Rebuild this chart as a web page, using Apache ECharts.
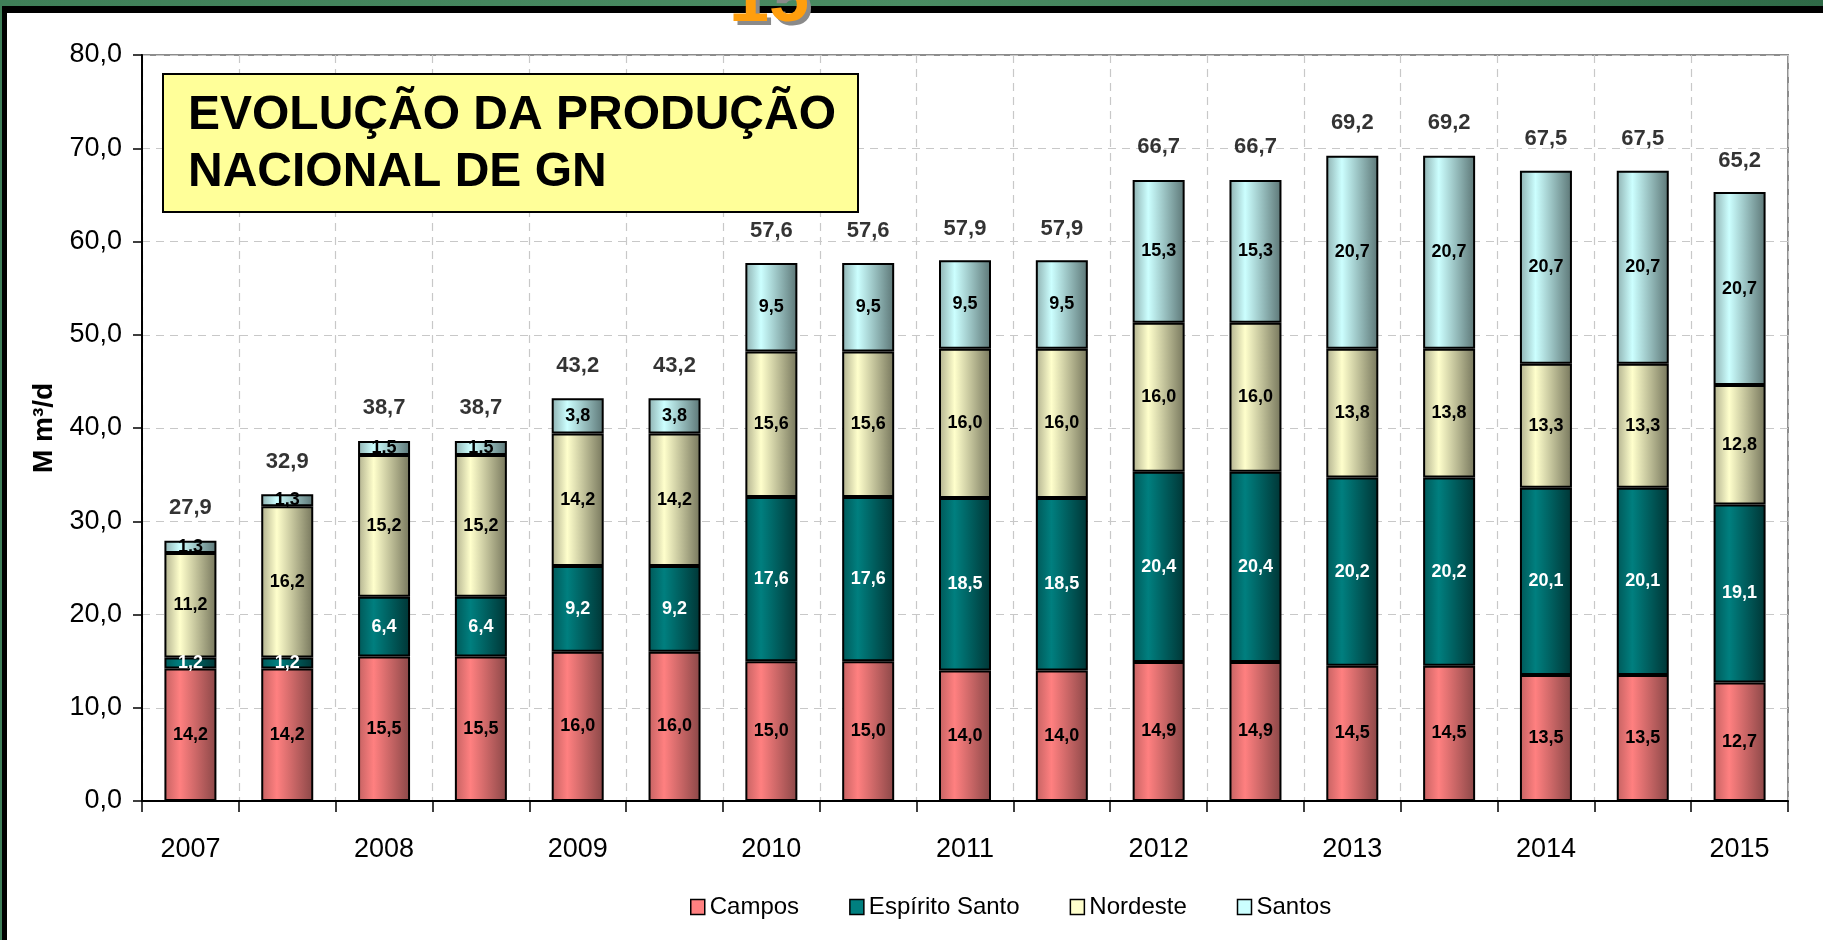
<!DOCTYPE html>
<html>
<head>
<meta charset="utf-8">
<script src="https://cdn.jsdelivr.net/npm/echarts@6/dist/echarts.min.js"></script>
<style>
html,body{margin:0;padding:0;background:#fff;}
#chart{width:1823px;height:940px;}
</style>
</head>
<body>
<div id="chart"></div>
<script>
const categories = ['2007','','2008','','2009','','2010','','2011','','2012','','2013','','2014','','2015'];
const campos   = [14.2,14.2,15.5,15.5,16.0,16.0,15.0,15.0,14.0,14.0,14.9,14.9,14.5,14.5,13.5,13.5,12.7];
const espirito = [1.2,1.2,6.4,6.4,9.2,9.2,17.6,17.6,18.5,18.5,20.4,20.4,20.2,20.2,20.1,20.1,19.1];
const nordeste = [11.2,16.2,15.2,15.2,14.2,14.2,15.6,15.6,16.0,16.0,16.0,16.0,13.8,13.8,13.3,13.3,12.8];
const santos   = [1.3,1.3,1.5,1.5,3.8,3.8,9.5,9.5,9.5,9.5,15.3,15.3,20.7,20.7,20.7,20.7,20.7];
const totals   = [27.9,32.9,38.7,38.7,43.2,43.2,57.6,57.6,57.9,57.9,66.7,66.7,69.2,69.2,67.5,67.5,65.2];
const yTicks   = [0,10,20,30,40,50,60,70,80];

const FONT = '"Liberation Sans", Arial, sans-serif';
const fmt = v => Number(v).toFixed(1).replace('.', ',');

const chart = echarts.init(document.getElementById('chart'), null, {renderer:'canvas'});

function grad(c0, c1, c2) {
  return new echarts.graphic.LinearGradient(0, 0, 1, 0, [
    {offset:0, color:c0},{offset:0.3, color:c1},{offset:1, color:c2}
  ]);
}

function barSeries(name, data, fill, labelColor) {
  return {
    name, type:'bar', stack:'total', data,
    barWidth: 52,
    itemStyle:{color:fill, borderColor:'#000', borderWidth:2},
    label:{show:true, position:'inside', color:labelColor,
      fontFamily:FONT, fontWeight:'bold', fontSize:18,
      formatter: p => fmt(p.value)},
    emphasis:{disabled:true}
  };
}

const option = {
  animation:false,
  backgroundColor:'#fff',
  grid:{left:142, right:35, top:55, bottom:139, show:true, borderColor:'#8c8c8c', borderWidth:2, backgroundColor:'transparent'},
  legend:{
    bottom:16, left:685, itemGap:50, itemWidth:14, itemHeight:15, icon:'rect',
    textStyle:{fontFamily:FONT, fontSize:24, color:'#000'},
    data:[
      {name:'Campos', itemStyle:{color:'#FF8080', borderColor:'#000', borderWidth:1.5}},
      {name:'Espírito Santo', itemStyle:{color:'#007F7F', borderColor:'#000', borderWidth:1.5}},
      {name:'Nordeste', itemStyle:{color:'#FFFFCC', borderColor:'#000', borderWidth:1.5}},
      {name:'Santos', itemStyle:{color:'#CCFFFF', borderColor:'#000', borderWidth:1.5}}
    ]
  },
  xAxis:{
    type:'category', data:categories, boundaryGap:true,
    axisLine:{lineStyle:{color:'#000', width:2}},
    axisTick:{show:true, interval:0, length:11, lineStyle:{color:'#000', width:1.5}},
    axisLabel:{interval:0, margin:35, fontFamily:FONT, fontSize:27, color:'#000'},
    splitLine:{show:true, interval:0, lineStyle:{color:'#c8c8c8', type:[8,6], width:1.2}}
  },
  yAxis:{
    type:'value', min:0, max:80, interval:10,
    name:'M m³/d', nameLocation:'middle', nameGap:84, nameRotate:90,
    nameTextStyle:{fontFamily:FONT, fontWeight:'bold', fontSize:28, color:'#000'},
    axisLine:{show:true, lineStyle:{color:'#000', width:2}},
    axisTick:{show:true, length:9, lineStyle:{color:'#000', width:1.5}},
    axisLabel:{margin:20, fontFamily:FONT, fontSize:27, color:'#000', formatter:v=>fmt(v)},
    splitLine:{show:true, lineStyle:{color:'#c8c8c8', type:[8,6], width:1.2}}
  },
  series:[
    barSeries('Campos', campos, grad('#C46262','#FF8080','#8A4747'), '#000'),
    barSeries('Espírito Santo', espirito, grad('#005858','#007F7F','#003535'), '#fff'),
    barSeries('Nordeste', nordeste, grad('#B0B08E','#FFFFCC','#76765C'), '#000'),
    barSeries('Santos', santos, grad('#8EB0B0','#CCFFFF','#5C7676'), '#000'),
    {
      name:'Total', type:'scatter', data:totals, symbolSize:1,
      itemStyle:{color:'rgba(0,0,0,0)'},
      label:{show:true, position:'top', distance:21, color:'#000',
        fontFamily:FONT, fontWeight:'bold', fontSize:22,
        formatter:p=>fmt(p.value)},
      emphasis:{disabled:true}, silent:true, z:5
    }
  ],
  graphic:[
    {type:'rect', shape:{x:0,y:0,width:1823,height:6}, z:100,
      style:{fill:new echarts.graphic.LinearGradient(0,0,1,0,[{offset:0,color:'#3f7f58'},{offset:0.5,color:'#4a8c63'},{offset:1,color:'#2f6a47'}])}},
    {type:'rect', shape:{x:0,y:6,width:1823,height:7}, z:100, style:{fill:'#000'}},
    {type:'rect', shape:{x:0,y:0,width:2,height:940}, z:100, style:{fill:'#3f7f58'}},
    {type:'rect', shape:{x:2,y:6,width:5,height:934}, z:100, style:{fill:'#000'}},
    {type:'text', x:733, y:5, z:101, style:{text:'15', fill:'#8a8a8a', font:'bold 72px "Liberation Sans", Arial, sans-serif', verticalAlign:'middle'}},
    {type:'text', x:729, y:1, z:102, style:{text:'15', fill:'#FF9E0D', font:'bold 72px "Liberation Sans", Arial, sans-serif', verticalAlign:'middle'}},
    {type:'rect', shape:{x:163,y:74,width:695,height:138}, z:50,
      style:{fill:'#FFFF99', stroke:'#000', lineWidth:2}},
    {type:'text', x:188, y:116, z:51, style:{text:'EVOLUÇÃO DA PRODUÇÃO', fill:'#000', font:'bold 48px "Liberation Sans", Arial, sans-serif', verticalAlign:'middle'}},
    {type:'text', x:188, y:173, z:51, style:{text:'NACIONAL DE GN', fill:'#000', font:'bold 48px "Liberation Sans", Arial, sans-serif', verticalAlign:'middle'}}
  ]
};
chart.setOption(option);
</script>
</body>
</html>
